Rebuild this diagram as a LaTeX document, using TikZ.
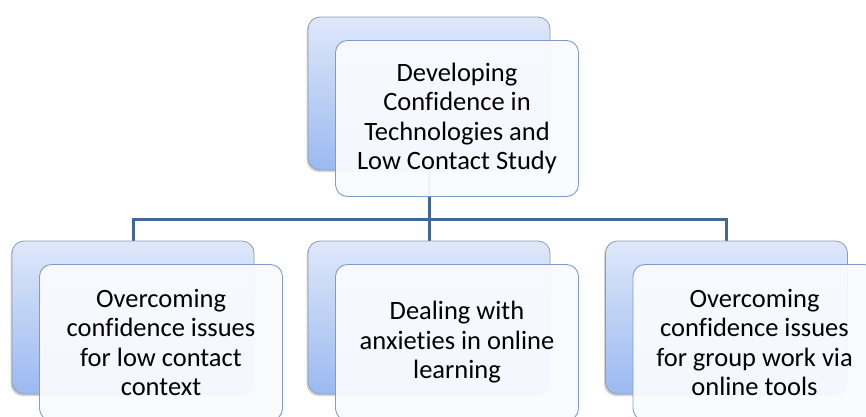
\documentclass[tikz,border=0pt]{standalone}
\usepackage{fontspec}
\setmainfont[Ligatures=NoCommon]{Carlito}
\usetikzlibrary{shadows}
\definecolor{backtop}{HTML}{DEE8F9}
\definecolor{backbot}{HTML}{9BB9F1}
\definecolor{backline}{HTML}{8E9BB0}
\definecolor{frontfill}{HTML}{FAFBFF}
\definecolor{frontline}{HTML}{7B9CD1}
\definecolor{linkcol}{HTML}{41679A}
\tikzset{
    backbox/.style={rectangle, rounded corners=12pt, minimum width=242pt, minimum height=153pt,
        inner sep=0pt, top color=backtop, bottom color=backbot, draw=backline, line width=0.8pt,
        drop shadow={shadow xshift=-1.5pt, shadow yshift=-2pt, opacity=0.35}},
    frontbox/.style={rectangle, rounded corners=12pt, minimum width=243pt, minimum height=156pt,
        inner sep=0pt, fill=frontfill, fill opacity=0.94, text opacity=1, draw=frontline,
        line width=0.9pt, align=center, font=\fontsize{26.5}{29.5}\selectfont},
    link/.style={draw=linkcol, line width=3pt}
}
\begin{document}
\begin{tikzpicture}[x=1pt, y=-1pt]
    \useasboundingbox (0,0) rectangle (866,416);
    \clip (0,0) rectangle (866,416);

    % 1. Connectors
    \coordinate (hub) at (429,219);
    \coordinate (topend) at (429,170);
    \foreach \xx in {133,429,726.5} {
        \draw[link] (topend) -- (hub) -| (\xx,242);
    }

    % 2. Back boxes
    \node[backbox] (topback) at (429,93.5) {};
    \node[backbox] (leftback) at (133,317.5) {};
    \node[backbox] (midback) at (429,317.5) {};
    \node[backbox] (rightback) at (726.5,317.5) {};

    % 3. Front boxes with text
    \node[frontbox] (top) at ([shift={(28,25)}]topback.center)
        {Developing\\Confidence in\\Technologies and\\Low Contact Study};
    \node[frontbox] (left) at ([shift={(28,25)}]leftback.center)
        {Overcoming\\confidence issues\\for low contact\\context};
    \node[frontbox] (mid) at ([shift={(28,25)}]midback.center)
        {Dealing with\\anxieties in online\\learning};
    \node[frontbox] (right) at ([shift={(28,25)}]rightback.center)
        {Overcoming\\confidence issues\\for group work via\\online tools};
\end{tikzpicture}
\end{document}
